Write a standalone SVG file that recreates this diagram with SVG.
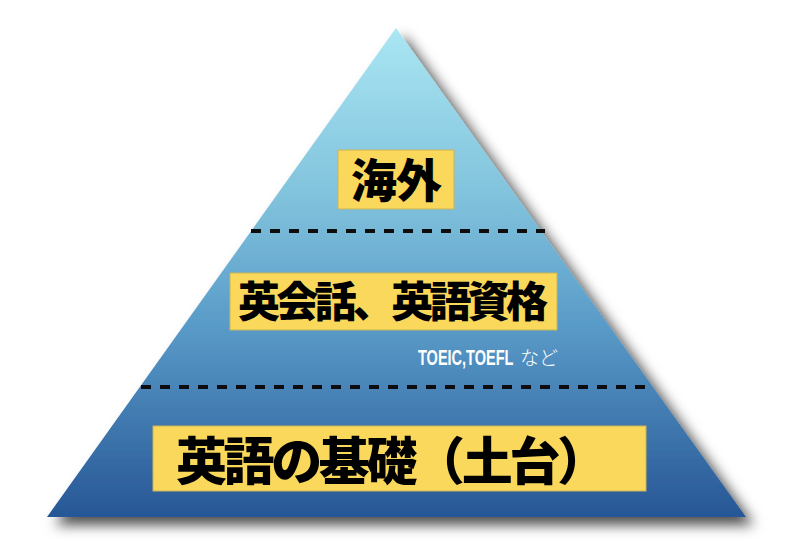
<svg xmlns="http://www.w3.org/2000/svg" width="800" height="541" viewBox="0 0 800 541">
  <defs>
    <linearGradient id="pyr" x1="0" y1="28" x2="0" y2="517" gradientUnits="userSpaceOnUse">
      <stop offset="0" stop-color="#aae6f3"/>
      <stop offset="0.35" stop-color="#80c2dc"/>
      <stop offset="0.6" stop-color="#5a9cc9"/>
      <stop offset="1" stop-color="#275796"/>
    </linearGradient>
    <filter id="shadow" x="-10%" y="-10%" width="125%" height="125%">
      <feDropShadow dx="8" dy="8" stdDeviation="6.5" flood-color="#000" flood-opacity="0.7"/>
    </filter>
    <style>
      .box { fill: #fad85c; stroke: #c9b458; stroke-width: 1; }
      .label { font-family: "Noto Sans CJK JP", "Noto Sans", sans-serif; font-weight: 900; fill: #000; }
      .dash { stroke: #0d0d0d; stroke-width: 4; stroke-dasharray: 10 9; fill: none; }
      .note { fill: #fff; }
    </style>
  </defs>
  <rect width="800" height="541" fill="#fff"/>
  <g id="pyramid">
    <polygon points="396,28 47,517 746,517" fill="url(#pyr)" filter="url(#shadow)"/>
  </g>
  <g id="connectors">
    <line class="dash" x1="251" y1="231" x2="545" y2="231"/>
    <line class="dash" x1="141" y1="387" x2="648" y2="387"/>
  </g>
  <g id="top">
    <rect class="box" x="338" y="150" width="116" height="59"/>
    <text class="label" x="351" y="197" font-size="46" textLength="91" lengthAdjust="spacing">海外</text>
  </g>
  <g id="middle">
    <rect class="box" x="230" y="273" width="327" height="57"/>
    <text class="label" x="238" y="317" font-size="42" textLength="310" lengthAdjust="spacing">英会話、英語資格</text>
  </g>
  <g id="note">
    <text class="note" transform="translate(418,365) scale(0.66,1)" x="0" y="0" font-size="22" font-family="'Liberation Sans', Arial, sans-serif" font-weight="bold">TOEIC,TOEFL</text>
    <text class="note" x="520" y="365" font-size="19" font-family="'Noto Sans CJK JP', sans-serif" font-weight="300">など</text>
  </g>
  <g id="bottom">
    <rect class="box" x="153" y="426" width="493" height="65"/>
    <text class="label" x="176" y="480" font-size="51" textLength="432" lengthAdjust="spacing">英語の基礎（土台）</text>
  </g>
</svg>
